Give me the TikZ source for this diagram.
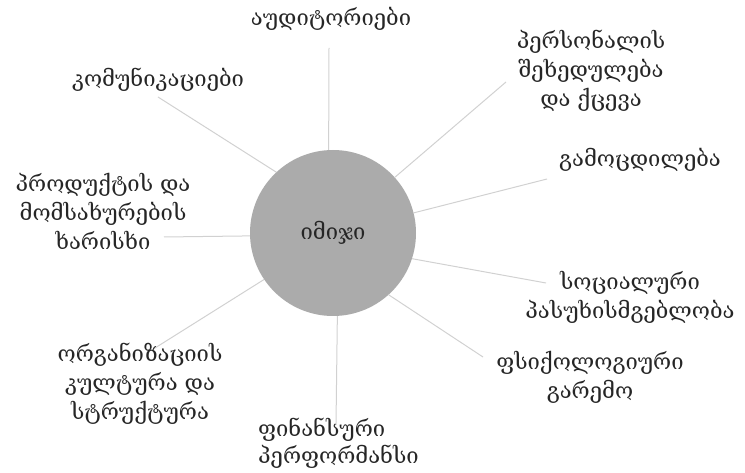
\documentclass[tikz,border=0pt]{standalone}
\usepackage{fontspec}
\setmainfont{DejaVu Serif}
\begin{document}
\begin{tikzpicture}[x=1pt,y=-1pt,
  lbl/.style={inner sep=0pt,align=center,text=black!85,font=\fontsize{22}{29}\selectfont},
  spoke/.style={draw=black!18,line width=1pt},
  hub/.style={circle,fill=black!33,minimum size=166pt,inner sep=0pt,text=black!85,font=\fontsize{22}{29}\selectfont}]
\useasboundingbox (0,0) rectangle (745,473);
\node[hub] (img) at (333,233) {\raisebox{6pt}{იმიჯი}};
\node[lbl] (aud) at (331,19) {აუდიტორიები};
\node[lbl] (com) at (158,80) {კომუნიკაციები};
\node[lbl] (per) at (591,71) {პერსონალის\\შეხედულება\\და ქცევა};
\node[lbl] (exp) at (640,160) {გამოცდილება};
\node[lbl] (pro) at (103,211) {პროდუქტის და\\მომსახურების\\ხარისხი};
\node[lbl] (soc) at (630,297) {სოციალური\\პასუხისმგებლობა};
\node[lbl] (psy) at (590,377) {ფსიქოლოგიური\\გარემო};
\node[lbl] (org) at (140,384) {ორგანიზაციის\\კულტურა და\\სტრუქტურა};
\node[lbl,align=left,anchor=west,font=\fontsize{22}{27}\selectfont] (fin) at (258,443) {ფინანსური\\პერფორმანსი};
\coordinate (aud-e) at (329,48);
\coordinate (com-e) at (158,97);
\coordinate (per-e) at (506,82);
\coordinate (exp-e) at (547,179);
\coordinate (soc-e) at (546,283);
\coordinate (psy-e) at (483,357);
\coordinate (fin-e) at (336,425);
\coordinate (org-e) at (155,348);
\coordinate (pro-e) at (164,237);
\draw[spoke] (aud-e) -- (img.93);
\draw[spoke] (com-e) -- (img.133.6);
\draw[spoke] (per-e) -- (img.42.7);
\draw[spoke] (exp-e) -- (img.14.4);
\draw[spoke] (soc-e) -- (img.-18.6);
\draw[spoke] (psy-e) -- (img.-48.7);
\draw[spoke] (fin-e) -- (img.-87.9);
\draw[spoke] (org-e) -- (img.214.4);
\draw[spoke] (pro-e) -- (img.182.8);
\end{tikzpicture}
\end{document}
